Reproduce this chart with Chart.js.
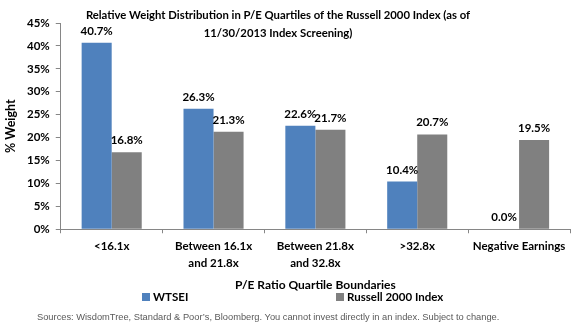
<!DOCTYPE html>
<html><head><meta charset="utf-8">
<script src="https://cdn.jsdelivr.net/npm/chart.js@4/dist/chart.umd.min.js"></script>
<style>
html,body{margin:0;padding:0;background:#fff;}
#wrap{position:relative;width:577px;height:327px;}
#c{position:absolute;left:0;top:0;}
#title{position:absolute;top:6px;left:78px;width:400px;text-align:center;font:bold 11.3px/18px Lato,sans-serif;color:#000;}
#legend{position:absolute;top:290px;left:0;width:577px;height:16px;font:bold 11.5px Lato,sans-serif;color:#000;}
.li{position:absolute;top:0;white-space:nowrap;}
.sw{display:inline-block;width:8px;height:8px;margin-right:3px;vertical-align:0px;}
#foot{position:absolute;top:312px;left:37px;font:9.3px "Liberation Sans",Arial,sans-serif;color:#595959;white-space:nowrap;}
</style></head>
<body>
<div id="wrap">
<canvas id="c" width="577" height="327"></canvas>
<div id="title">Relative Weight Distribution in P/E Quartiles of the Russell 2000 Index (as of<br>11/30/2013 Index Screening)</div>
<div id="legend">
  <span class="li" style="left:142px"><span class="sw" style="background:#4F81BD"></span>WTSEI</span>
  <span class="li" style="left:336px"><span class="sw" style="background:#808080"></span>Russell 2000 Index</span>
</div>
<div id="foot">Sources: WisdomTree, Standard &amp; Poor’s, Bloomberg. You cannot invest directly in an index. Subject to change.</div>
</div>
<script>
const categories = [['<16.1x'], ['Between 16.1x','and 21.8x'], ['Between 21.8x','and 32.8x'], ['>32.8x'], ['Negative Earnings']];
const wtsei = [40.7, 26.3, 22.6, 10.4, 0.0];
const russell = [16.8, 21.3, 21.7, 20.7, 19.5];
const yTicks = [0,5,10,15,20,25,30,35,40,45];
const FONT = 'Lato, sans-serif';

const valueLabels = {
  id:'valueLabels',
  afterDatasetsDraw(chart){
    const ctx = chart.ctx;
    ctx.save();
    ctx.font = 'bold 11.5px ' + FONT;
    ctx.fillStyle = '#000';
    ctx.textAlign = 'center';
    ctx.textBaseline = 'bottom';
    chart.data.datasets.forEach((ds,i)=>{
      chart.getDatasetMeta(i).data.forEach((el,j)=>{
        ctx.fillText(ds.data[j].toFixed(1)+'%', el.x, el.y - 6);
      });
    });
    ctx.restore();
  }
};

new Chart(document.getElementById('c'), {
  type:'bar',
  data:{
    labels: categories,
    datasets:[
      {label:'WTSEI', data:wtsei, backgroundColor:'#4F81BD', borderWidth:0},
      {label:'Russell 2000 Index', data:russell, backgroundColor:'#808080', borderWidth:0}
    ]
  },
  options:{
    responsive:false,
    animation:false,
    devicePixelRatio:1,
    layout:{padding:{left:3,right:7,top:23,bottom:35}},
    datasets:{bar:{categoryPercentage:0.59,barPercentage:1.0}},
    plugins:{
      legend:{display:false},
      tooltip:{enabled:false},
      title:{display:false}
    },
    scales:{
      x:{
        grid:{display:true,drawOnChartArea:false,drawTicks:true,tickLength:4,color:'#868686',offset:true},
        border:{display:true,color:'#868686'},
        ticks:{font:{family:FONT,size:11.5,weight:'bold',lineHeight:1.45},color:'#000',padding:5,maxRotation:0,autoSkip:false},
        title:{display:true,text:'P/E Ratio Quartile Boundaries',font:{family:FONT,size:12,weight:'bold'},color:'#000',padding:{top:1,bottom:0}}
      },
      y:{
        min:0,max:45,
        afterBuildTicks(axis){ axis.ticks = yTicks.map(v=>({value:v})); },
        grid:{display:true,drawOnChartArea:false,drawTicks:true,tickLength:5,color:'#868686'},
        border:{display:true,color:'#868686'},
        ticks:{font:{family:FONT,size:11.5,weight:'bold'},color:'#000',padding:6,callback:v=>v+'%'},
        title:{display:true,text:'% Weight',font:{family:FONT,size:12.5,weight:'bold'},color:'#000',padding:{top:0,bottom:3}}
      }
    }
  },
  plugins:[valueLabels]
});
</script>
</body></html>
